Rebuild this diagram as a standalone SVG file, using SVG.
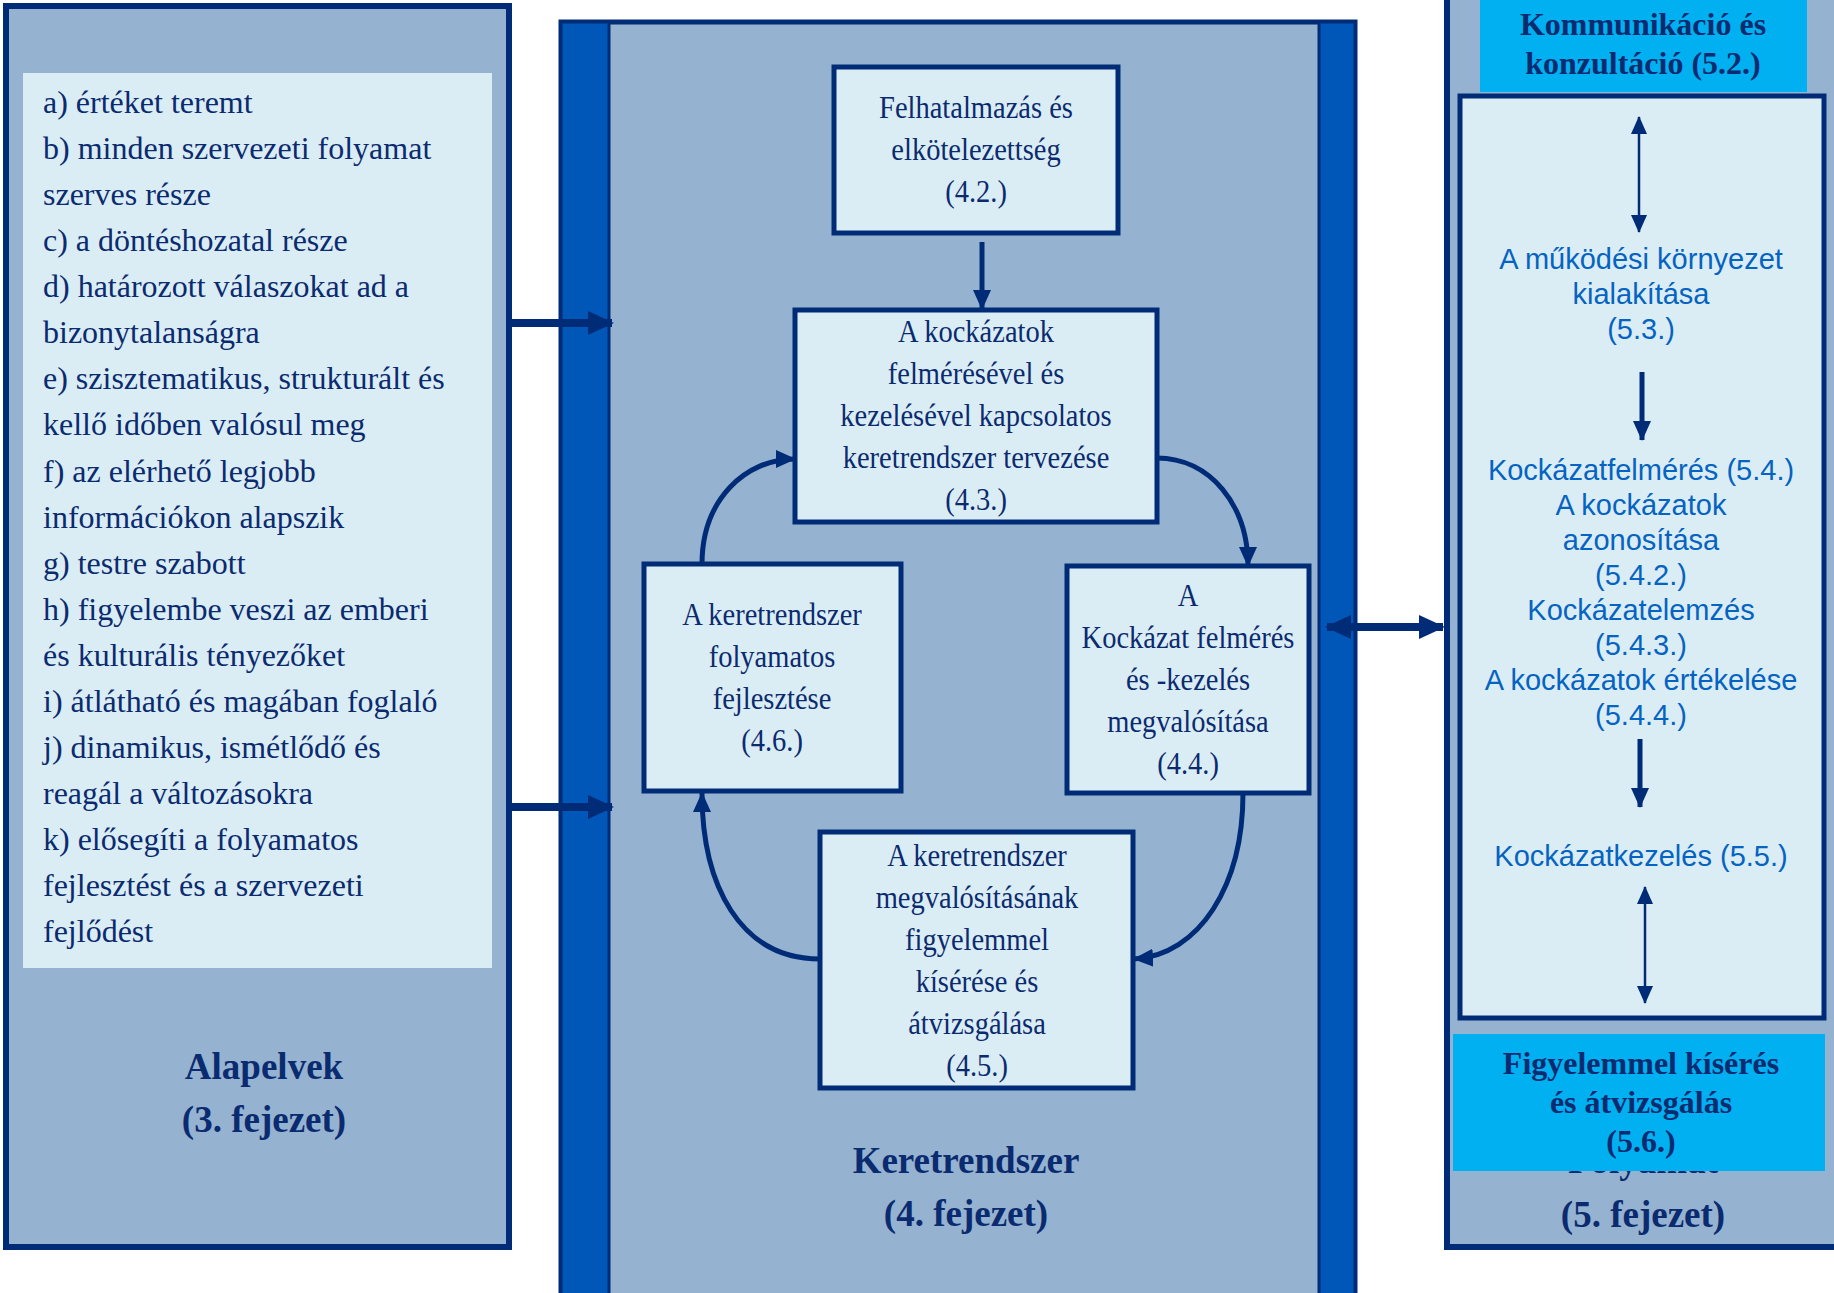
<svg xmlns="http://www.w3.org/2000/svg" width="1834" height="1293" viewBox="0 0 1834 1293">
<style>
.panel{fill:#95b3d0;stroke:#002c77;stroke-width:6}
.light{fill:#dbedf4}
.box{fill:#dbedf4;stroke:#002c77;stroke-width:5}
.bar{fill:#0057b8;stroke:#002c77;stroke-width:3}
.cy{fill:#00b0f0}
.t{font-family:"Liberation Serif","Times New Roman",serif;fill:#0b2b70}
.body{font-size:32px}
.nt{font-size:31px;text-anchor:middle}
.title{font-size:37px;font-weight:bold;text-anchor:middle}
.bt{font-size:32px;font-weight:bold;text-anchor:middle}
.s{font-family:"Liberation Sans",Arial,sans-serif;font-size:29px;fill:#0563c1;text-anchor:middle}
.conn{fill:none;stroke:#002c77;stroke-width:5}
.thick{fill:none;stroke:#002c77;stroke-width:8}
.thin{fill:none;stroke:#002c77;stroke-width:2.5}
</style>
<defs>
<marker id="ah" markerWidth="26" markerHeight="26" refX="24" refY="13" orient="auto" markerUnits="userSpaceOnUse"><path d="M0,1 L26,13 L0,25 z" fill="#002c77"/></marker>
<marker id="ahs" markerWidth="26" markerHeight="26" refX="24" refY="13" orient="auto-start-reverse" markerUnits="userSpaceOnUse"><path d="M0,1 L26,13 L0,25 z" fill="#002c77"/></marker>
<marker id="ahm" markerWidth="20" markerHeight="20" refX="19" refY="10" orient="auto" markerUnits="userSpaceOnUse"><path d="M0,1 L20,10 L0,19 z" fill="#002c77"/></marker>
<marker id="at" markerWidth="18" markerHeight="16" refX="17" refY="8" orient="auto-start-reverse" markerUnits="userSpaceOnUse"><path d="M0,0 L18,8 L0,16 z" fill="#002c77"/></marker>
</defs>

<g id="alapelvek">
<rect class="panel" x="6" y="6" width="503" height="1241"/>
<rect class="light" x="23" y="73" width="469" height="895"/>
<g class="t body">
<text x="43" y="113">a) értéket teremt</text>
<text x="43" y="159">b) minden szervezeti folyamat</text>
<text x="43" y="205">szerves része</text>
<text x="43" y="251">c) a döntéshozatal része</text>
<text x="43" y="297">d) határozott válaszokat ad a</text>
<text x="43" y="343">bizonytalanságra</text>
<text x="43" y="389">e) szisztematikus, strukturált és</text>
<text x="43" y="435">kellő időben valósul meg</text>
<text x="43" y="482">f) az elérhető legjobb</text>
<text x="43" y="528">információkon alapszik</text>
<text x="43" y="574">g) testre szabott</text>
<text x="43" y="620">h) figyelembe veszi az emberi</text>
<text x="43" y="666">és kulturális tényezőket</text>
<text x="43" y="712">i) átlátható és magában foglaló</text>
<text x="43" y="758">j) dinamikus, ismétlődő és</text>
<text x="43" y="804">reagál a változásokra</text>
<text x="43" y="850">k) elősegíti a folyamatos</text>
<text x="43" y="896">fejlesztést és a szervezeti</text>
<text x="43" y="942">fejlődést</text>
</g>
<text class="t title" x="264" y="1079">Alapelvek</text>
<text class="t title" x="264" y="1132">(3. fejezet)</text>
</g>

<g id="keretrendszer">
<rect class="panel" x="561" y="22" width="794" height="1290" style="stroke-width:5"/>
<rect class="bar" x="561" y="22" width="48" height="1290"/>
<rect class="bar" x="1319" y="22" width="36" height="1290"/>
<text class="t title" x="966" y="1173">Keretrendszer</text>
<text class="t title" x="966" y="1226">(4. fejezet)</text>
</g>

<g id="n42">
<rect class="box" x="834" y="67" width="284" height="166"/>
<g class="t nt" transform="translate(976,0) scale(0.92,1)">
<text x="0" y="118">Felhatalmazás és</text>
<text x="0" y="160">elkötelezettség</text>
<text x="0" y="202">(4.2.)</text>
</g>
</g>

<g id="n43">
<rect class="box" x="795" y="310" width="362" height="212"/>
<g class="t nt" transform="translate(976,0) scale(0.92,1)">
<text x="0" y="342">A kockázatok</text>
<text x="0" y="384">felmérésével és</text>
<text x="0" y="426">kezelésével kapcsolatos</text>
<text x="0" y="468">keretrendszer tervezése</text>
<text x="0" y="510">(4.3.)</text>
</g>
</g>

<g id="n46">
<rect class="box" x="644" y="564" width="257" height="227"/>
<g class="t nt" transform="translate(772,0) scale(0.92,1)">
<text x="0" y="625">A keretrendszer</text>
<text x="0" y="667">folyamatos</text>
<text x="0" y="709">fejlesztése</text>
<text x="0" y="751">(4.6.)</text>
</g>
</g>

<g id="n44">
<rect class="box" x="1067" y="566" width="242" height="227"/>
<g class="t nt" transform="translate(1188,0) scale(0.92,1)">
<text x="0" y="606">A</text>
<text x="0" y="648">Kockázat felmérés</text>
<text x="0" y="690">és -kezelés</text>
<text x="0" y="732">megvalósítása</text>
<text x="0" y="774">(4.4.)</text>
</g>
</g>

<g id="n45">
<rect class="box" x="820" y="832" width="313" height="256"/>
<g class="t nt" transform="translate(977,0) scale(0.92,1)">
<text x="0" y="866">A keretrendszer</text>
<text x="0" y="908">megvalósításának</text>
<text x="0" y="950">figyelemmel</text>
<text x="0" y="992">kísérése és</text>
<text x="0" y="1034">átvizsgálása</text>
<text x="0" y="1076">(4.5.)</text>
</g>
</g>

<g id="folyamat">
<rect class="panel" x="1447" y="-10" width="400" height="1257"/>
<text class="t title" x="1643" y="1173">Folyamat</text>
<text class="t title" x="1643" y="1227">(5. fejezet)</text>
<rect class="box" x="1460" y="96" width="364" height="922"/>
<rect class="cy" x="1480" y="0" width="327" height="92"/>
<text class="t bt" x="1643" y="35">Kommunikáció és</text>
<text class="t bt" x="1643" y="74">konzultáció (5.2.)</text>
<g class="s">
<text x="1641" y="269">A működési környezet</text>
<text x="1641" y="304">kialakítása</text>
<text x="1641" y="339">(5.3.)</text>
<text x="1641" y="480">Kockázatfelmérés (5.4.)</text>
<text x="1641" y="515">A kockázatok</text>
<text x="1641" y="550">azonosítása</text>
<text x="1641" y="585">(5.4.2.)</text>
<text x="1641" y="620">Kockázatelemzés</text>
<text x="1641" y="655">(5.4.3.)</text>
<text x="1641" y="690">A kockázatok értékelése</text>
<text x="1641" y="725">(5.4.4.)</text>
<text x="1641" y="866">Kockázatkezelés (5.5.)</text>
</g>
<rect class="cy" x="1453" y="1034" width="372" height="137"/>
<text class="t bt" x="1641" y="1074">Figyelemmel kísérés</text>
<text class="t bt" x="1641" y="1113">és átvizsgálás</text>
<text class="t bt" x="1641" y="1152">(5.6.)</text>
</g>

<g id="connectors">
<line class="thick" x1="509" y1="323" x2="612" y2="323" marker-end="url(#ah)"/>
<line class="thick" x1="509" y1="807" x2="612" y2="807" marker-end="url(#ah)"/>
<line class="thick" x1="1327" y1="627" x2="1443" y2="627" marker-start="url(#ahs)" marker-end="url(#ahs)"/>
<line class="conn" x1="982" y1="242" x2="982" y2="309" marker-end="url(#ahm)"/>
<path class="conn" d="M702,564 C702,500 745,459 795,459" marker-end="url(#ahm)"/>
<path class="conn" d="M1157,458 C1210,458 1248,505 1248,566" marker-end="url(#ahm)"/>
<path class="conn" d="M1243,793 C1243,885 1200,955 1134,959" marker-end="url(#ahm)"/>
<path class="conn" d="M820,959 C740,959 702,885 702,793" marker-end="url(#ahm)"/>
<line class="thin" x1="1639" y1="117" x2="1639" y2="232" marker-start="url(#at)" marker-end="url(#at)"/>
<line class="conn" x1="1642" y1="372" x2="1642" y2="440" marker-end="url(#ahm)"/>
<line class="conn" x1="1640" y1="739" x2="1640" y2="807" marker-end="url(#ahm)"/>
<line class="thin" x1="1645" y1="887" x2="1645" y2="1003" marker-start="url(#at)" marker-end="url(#at)"/>
</g>
</svg>
